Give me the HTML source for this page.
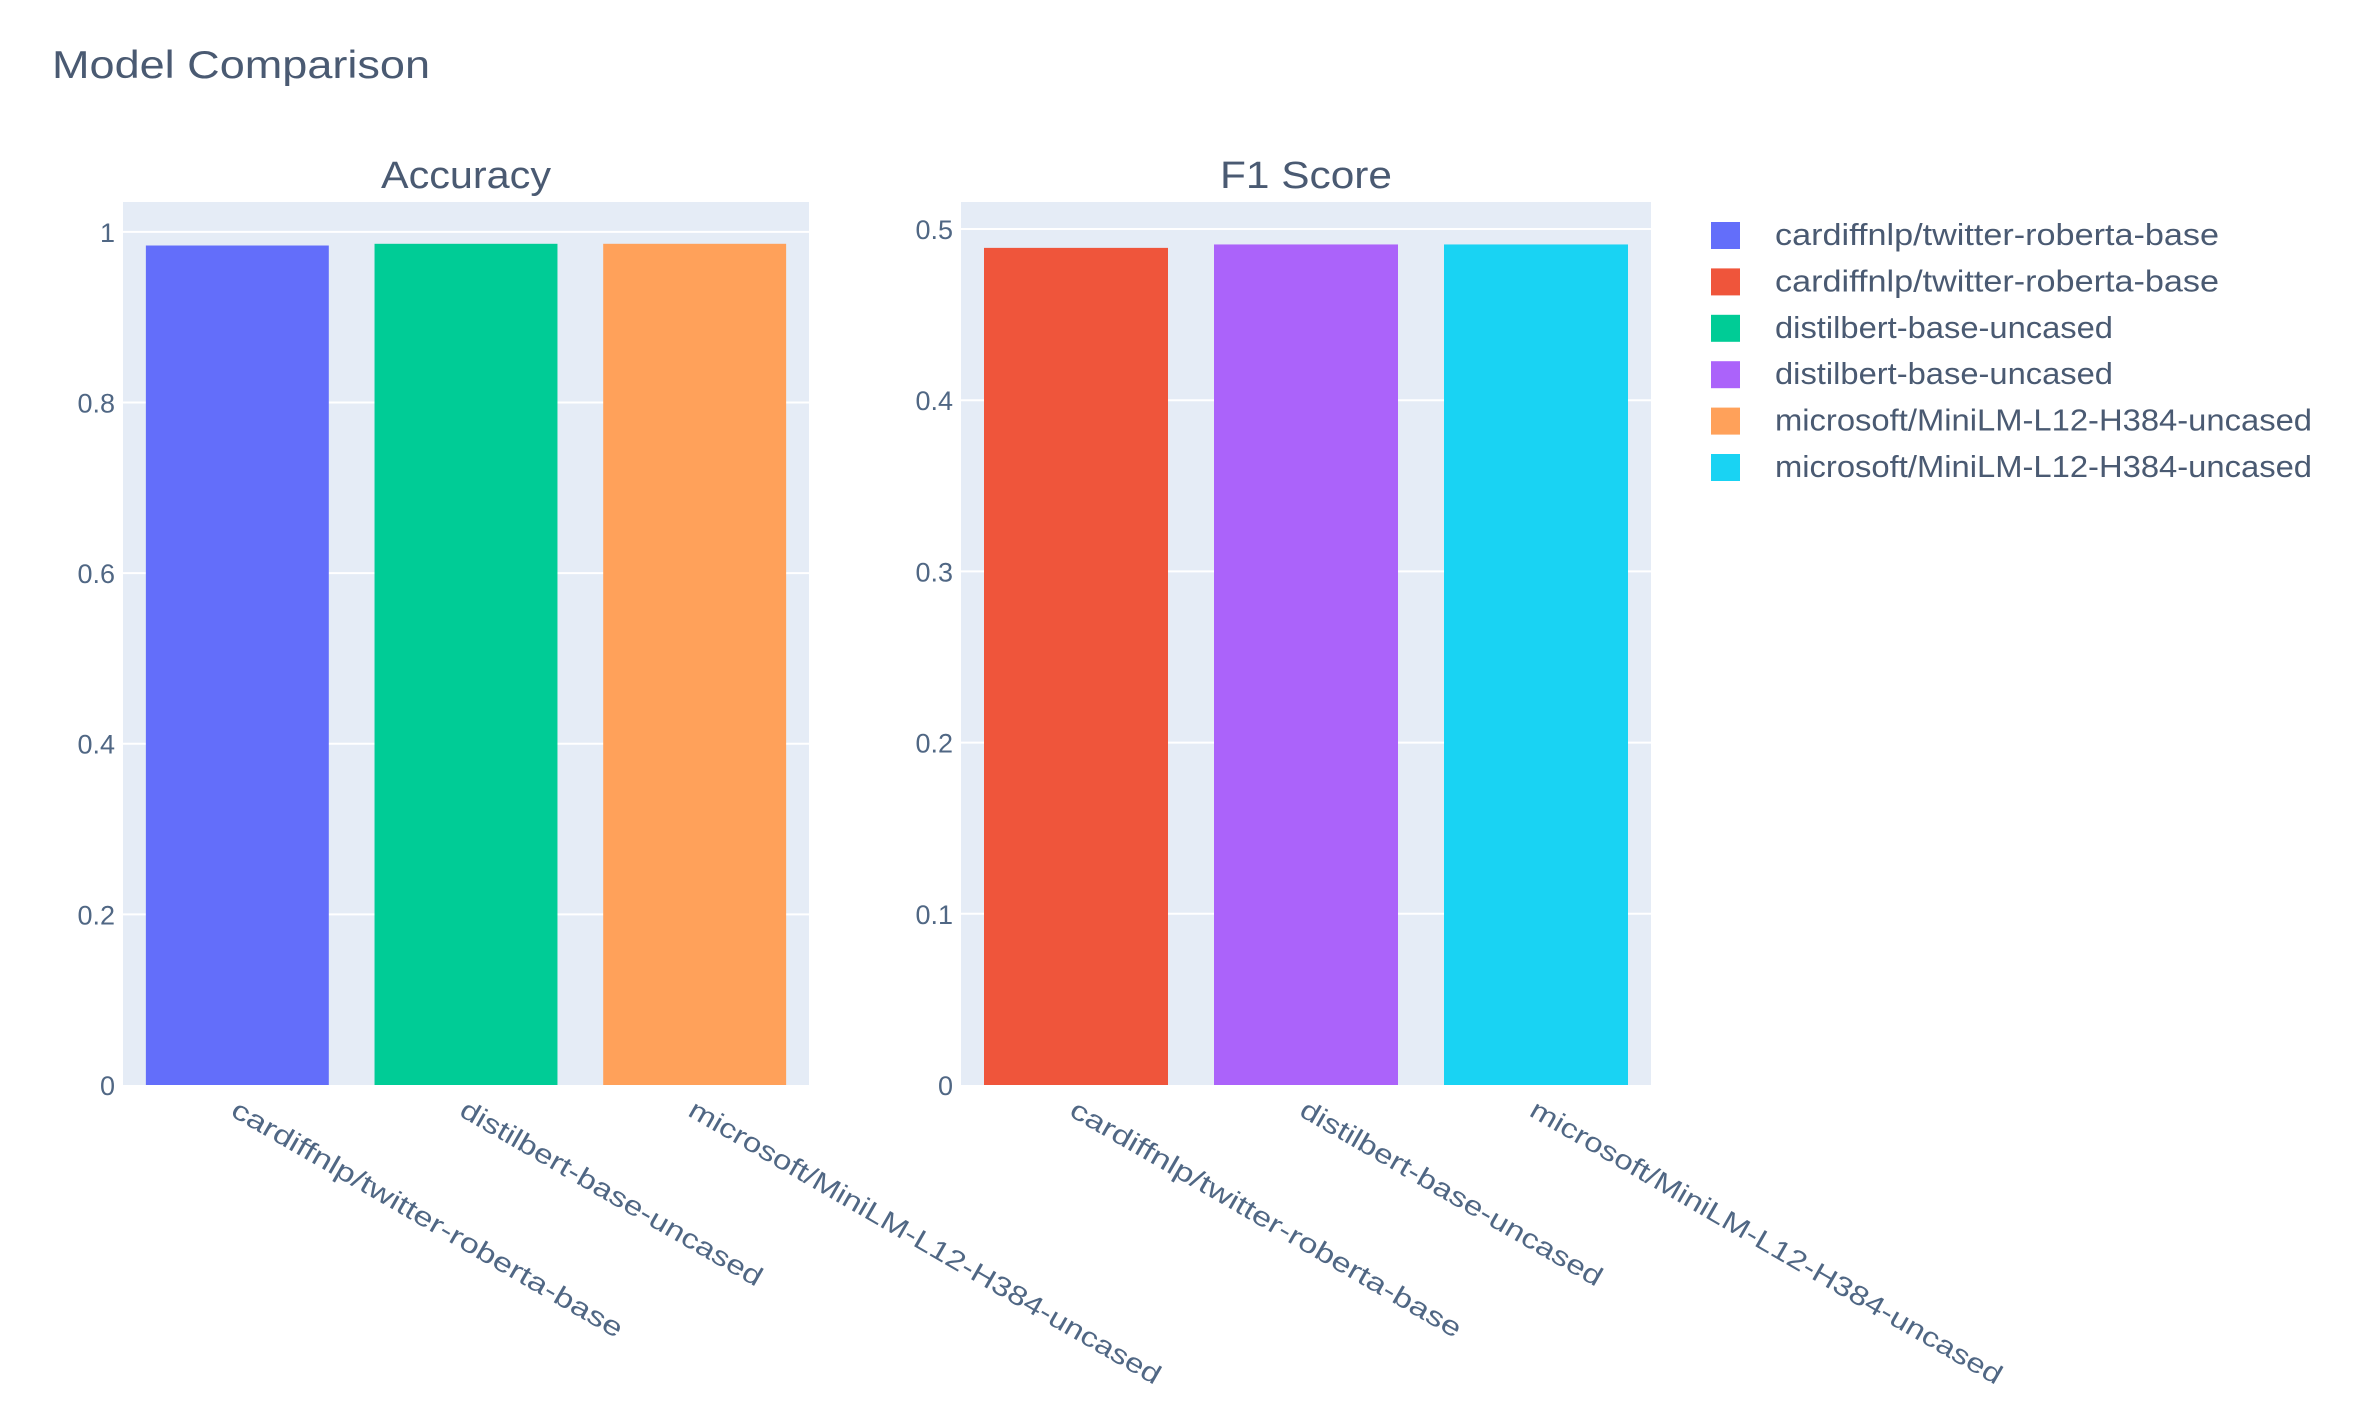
<!DOCTYPE html>
<html><head><meta charset="utf-8"><style>
html,body{margin:0;padding:0;background:#fff;}
svg{display:block;font-family:"Liberation Sans","DejaVu Sans",sans-serif;}
</style></head><body>
<svg id="chart" width="2354" height="1423" viewBox="0 0 2354 1423">
<text x="52" y="78" font-size="39" fill="#4a5a72" textLength="378" lengthAdjust="spacingAndGlyphs">Model Comparison</text>
<g id="g"></g>
</svg>
<script>
const categories = ["cardiffnlp/twitter-roberta-base","distilbert-base-uncased","microsoft/MiniLM-L12-H384-uncased"];
const accuracyValues = [0.984, 0.986, 0.986];
const f1Values = [0.489, 0.491, 0.491];
const accuracyTicks = [0, 0.2, 0.4, 0.6, 0.8, 1];
const accuracyTickLabels = ["0","0.2","0.4","0.6","0.8","1"];
const f1Ticks = [0, 0.1, 0.2, 0.3, 0.4, 0.5];
const f1TickLabels = ["0","0.1","0.2","0.3","0.4","0.5"];
const accColors = ["#636efa","#00cc96","#ffa15a"];
const f1Colors = ["#ef553b","#ab63fa","#19d3f3"];
const legendLabels = ["cardiffnlp/twitter-roberta-base","cardiffnlp/twitter-roberta-base","distilbert-base-uncased","distilbert-base-uncased","microsoft/MiniLM-L12-H384-uncased","microsoft/MiniLM-L12-H384-uncased"];
const legendColors = ["#636efa","#ef553b","#00cc96","#ab63fa","#ffa15a","#19d3f3"];

const NS = "http://www.w3.org/2000/svg";
const g = document.getElementById("g");
function mk(tag, attrs, parent){
  const e = document.createElementNS(NS, tag);
  for (const k in attrs) e.setAttribute(k, attrs[k]);
  (parent||g).appendChild(e);
  return e;
}
const labelLens = [447, 344, 540];

function panel(x0, x1, y0, y1, yMax, ticks, tickLabels, values, colors, title, titleLen, key){
  const yScale = v => y1 - (v / yMax) * (y1 - y0);
  const bg = mk("rect", {x:x0, y:y0, width:x1-x0, height:y1-y0, fill:"#e5ecf6"});
  
  
  ticks.forEach((t, i) => {
    const y = yScale(t);
    if (t > 0) {
      const gl = mk("line", {x1:x0, x2:x1, y1:y, y2:y, stroke:"#fff", "stroke-width":2});
      
      
    }
    const tl = mk("text", {x:x0-8, y:y+10, "font-size":27, fill:"#506784", "text-anchor":"end"});
    tl.textContent = tickLabels[i];
    
    
  });
  const n = categories.length;
  const band = (x1 - x0) / n;
  const bw = band * 0.8;
  values.forEach((v, i) => {
    const cx = x0 + band * (i + 0.5);
    const yt = yScale(v);
    const b = mk("rect", {x:cx-bw/2, y:yt, width:bw, height:y1-yt, fill:colors[i]});
    
    
    const lx = cx - 8, ly = y1 + 30;
    const xl = mk("text", {x:lx, y:ly, "font-size":27, fill:"#506784", transform:"rotate(30 "+lx+" "+ly+")", textLength:labelLens[i], lengthAdjust:"spacingAndGlyphs"});
    xl.textContent = categories[i];
    
    
  });
  const t = mk("text", {x:(x0+x1)/2, y:188, "font-size":38, fill:"#4a5a72", "text-anchor":"middle", textLength:titleLen, lengthAdjust:"spacingAndGlyphs"});
  t.textContent = title;
  
  
}
panel(123, 809, 202, 1085, 1.035, accuracyTicks, accuracyTickLabels, accuracyValues, accColors, "Accuracy", 170, "accuracy");
panel(961, 1651, 202, 1085, 0.5158, f1Ticks, f1TickLabels, f1Values, f1Colors, "F1 Score", 172, "f1");

legendLabels.forEach((lab, i) => {
  const by = 245 + i * 46.4;
  const sq = mk("rect", {x:1711, y:by-23, width:29, height:27, fill:legendColors[i]});
  
  
  const tx = mk("text", {x:1775, y:by, "font-size":31, fill:"#4a5a72", textLength: lab.length > 30 ? (lab.length > 32 ? 537 : 444) : 338, lengthAdjust:"spacingAndGlyphs"});
  tx.textContent = lab;
  
  
});
</script>
</body></html>
